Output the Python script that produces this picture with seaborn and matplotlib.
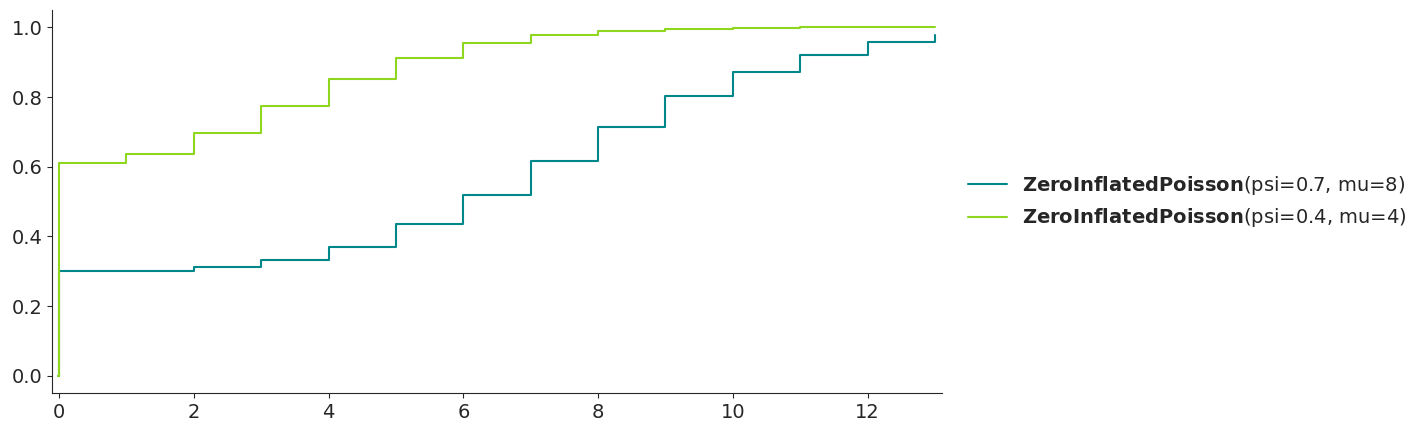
import numpy as np
import pandas as pd
import matplotlib
matplotlib.use("Agg")
import matplotlib.pyplot as plt
import seaborn as sns

sns.set_style("ticks")

# Values (CDF at k = 0..13)
k_values = list(range(14))
cdf_psi07_mu8 = [0.30, 0.302, 0.311, 0.332, 0.371, 0.435, 0.520, 0.617, 0.715, 0.802, 0.872, 0.922, 0.957, 0.977]
cdf_psi04_mu4 = [0.610, 0.637, 0.697, 0.774, 0.851, 0.913, 0.955, 0.979, 0.991, 0.996, 0.999, 1.0, 1.0, 1.0]
labels = [r"$\bf{ZeroInflatedPoisson}$(psi=0.7, mu=8)",
          r"$\bf{ZeroInflatedPoisson}$(psi=0.4, mu=4)"]
colors = ["#00878a", "#8fd61e"]

fig, ax = plt.subplots(figsize=(14.16, 4.33), dpi=100)
fig.subplots_adjust(left=0.037, right=0.665, top=0.977, bottom=0.092)

x_start = -0.02
for vals, lab, col in zip([cdf_psi07_mu8, cdf_psi04_mu4], labels, colors):
    df = pd.DataFrame({"x": [x_start] + k_values, "y": [0.0] + vals})
    sns.lineplot(data=df, x="x", y="y", ax=ax, drawstyle="steps-post",
                 color=col, label=lab, linewidth=1.5)

ax.set_xlim(-0.1, 13.1)
ax.set_ylim(-0.05, 1.05)
ax.set_xlabel("")
ax.set_ylabel("")
ax.set_xticks([0, 2, 4, 6, 8, 10, 12])
ax.tick_params(labelsize=14)
sns.despine(ax=ax)
ax.legend(loc="center left", bbox_to_anchor=(1.01, 0.5), frameon=False, fontsize=14)

fig.savefig("out.png", dpi=100)
